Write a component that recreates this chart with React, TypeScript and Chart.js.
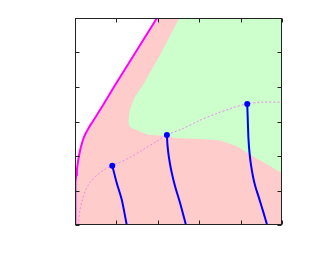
import { useEffect, useRef } from "react";
import { Chart, registerables } from "chart.js";

Chart.register(...registerables);

// axis ticks (no labels in the reference)
const xTicks = [0, 1, 2, 3, 4, 5];
const yTicks = [0, 1, 2, 3, 4, 5, 6];

// magenta limit curve
const limitX = [0, 0.001, 0.005, 0.012, 0.02, 0.032, 0.045, 0.062, 0.08, 0.104, 0.13, 0.163, 0.2, 0.247, 0.3, 0.364, 0.43, 0.69, 0.94, 1.46, 1.98];
const limitY = [0, 0.4, 0.75, 1.0, 1.25, 1.45, 1.6, 1.75, 1.9, 2.05, 2.2, 2.35, 2.5, 2.63, 2.75, 2.88, 3.0, 3.5, 4.0, 5.0, 6.0];

// green region outline (closed polygon)
const greenX = [1.29, 1.31, 1.37, 1.45, 1.65, 2.06, 2.5, 2.55, 5.0, 5.0, 4.72, 4.32, 3.91, 3.51, 3.03, 2.42, 2.22, 1.74, 1.57, 1.42, 1.34, 1.3];
const greenY = [3.0, 3.26, 3.49, 3.72, 4.07, 4.94, 5.96, 6.0, 6.0, 1.5, 1.7, 1.98, 2.28, 2.45, 2.49, 2.52, 2.58, 2.62, 2.71, 2.78, 2.84, 2.91];

// dashed curve through the dots
const dashX = [0.08, 0.12, 0.18, 0.26, 0.38, 0.54, 0.7, 0.9, 1.33, 1.65, 1.98, 2.22, 2.58, 2.99, 3.39, 3.79, 4.16, 4.52, 5.0];
const dashY = [0, 0.44, 0.73, 1.02, 1.26, 1.45, 1.6, 1.72, 1.96, 2.19, 2.43, 2.61, 2.78, 3.02, 3.22, 3.39, 3.51, 3.56, 3.56];

// blue dots
const dotX = [0.9, 2.22, 4.16];
const dotY = [1.72, 2.61, 3.51];

// blue curves from each dot down to the axis
const blue1X = [0.9, 1.01, 1.13, 1.25];
const blue1Y = [1.72, 1.21, 0.73, 0];
const blue2X = [2.22, 2.235, 2.27, 2.33, 2.42, 2.54, 2.68];
const blue2Y = [2.61, 2.3, 1.95, 1.55, 1.11, 0.63, 0];
const blue3X = [4.16, 4.175, 4.19, 4.215, 4.25, 4.3, 4.36, 4.44, 4.56, 4.64];
const blue3Y = [3.51, 3.0, 2.5, 2.1, 1.75, 1.4, 1.1, 0.8, 0.33, 0];

const X_MIN = 0, X_MAX = 5, Y_MIN = 0, Y_MAX = 6;

const zip = (xs: number[], ys: number[]) => xs.map((x, i) => ({ x, y: ys[i] }));

const framePlugin = {
  id: "frame",
  afterDatasetsDraw(chart: any) {
    const { ctx, chartArea: a, scales } = chart;
    const L = Math.round(a.left) + 0.5;
    const R = Math.round(a.right) - 0.5;
    const T = Math.round(a.top) + 0.5;
    const B = Math.round(a.bottom) - 0.5;
    const len = 4;
    ctx.save();
    ctx.strokeStyle = "#222";
    ctx.lineWidth = 1;
    ctx.beginPath();
    for (const v of xTicks) {
      const px = Math.round(scales.x.getPixelForValue(v)) + 0.5;
      ctx.moveTo(px, B); ctx.lineTo(px, B - len);
      ctx.moveTo(px, T); ctx.lineTo(px, T + len);
    }
    for (const v of yTicks) {
      const py = Math.round(scales.y.getPixelForValue(v)) + 0.5;
      ctx.moveTo(L, py); ctx.lineTo(L + len, py);
      ctx.moveTo(R, py); ctx.lineTo(R - len, py);
    }
    ctx.stroke();
    ctx.strokeRect(L, T, R - L, B - T);
    ctx.restore();
  },
};

export default function App() {
  const ref = useRef<HTMLCanvasElement | null>(null);

  useEffect(() => {
    if (!ref.current) return;
    const pinkData = [...zip(limitX, limitY), { x: X_MAX, y: Y_MAX }, { x: X_MAX, y: Y_MIN }];
    const blueLine = (xs: number[], ys: number[]) => ({
      data: zip(xs, ys),
      borderColor: "#0000ff",
      borderWidth: 2,
      pointRadius: 0,
      fill: false,
      tension: 0.25,
      order: 2,
    });
    const chart = new Chart(ref.current, {
      type: "line",
      data: {
        datasets: [
          {
            data: pinkData,
            borderWidth: 0,
            borderColor: "rgba(0,0,0,0)",
            backgroundColor: "#ffcccc",
            pointRadius: 0,
            fill: "origin",
            tension: 0,
            order: 10,
          },
          {
            data: zip(greenX, greenY),
            borderWidth: 0,
            borderColor: "rgba(0,0,0,0)",
            backgroundColor: "#ccffcc",
            pointRadius: 0,
            fill: "shape",
            tension: 0,
            order: 9,
          },
          {
            data: zip(dashX, dashY),
            borderColor: "#ee88ee",
            borderWidth: 1,
            borderDash: [2, 2],
            pointRadius: 0,
            fill: false,
            tension: 0.3,
            order: 5,
          },
          {
            data: zip(limitX, limitY),
            borderColor: "#ff00ff",
            borderWidth: 2,
            pointRadius: 0,
            fill: false,
            tension: 0,
            order: 3,
          },
          blueLine(blue1X, blue1Y),
          blueLine(blue2X, blue2Y),
          blueLine(blue3X, blue3Y),
          {
            data: zip(dotX, dotY),
            showLine: false,
            pointRadius: 3,
            pointBackgroundColor: "#0000ff",
            pointBorderColor: "#0000ff",
            pointBorderWidth: 0,
            fill: false,
            order: 1,
          },
        ],
      } as any,
      options: {
        animation: false,
        responsive: false,
        maintainAspectRatio: false,
        layout: { padding: { left: 75, top: 18, right: 27, bottom: 50 } },
        plugins: { legend: { display: false }, tooltip: { enabled: false } },
        scales: {
          x: { type: "linear", min: X_MIN, max: X_MAX, display: false },
          y: { type: "linear", min: Y_MIN, max: Y_MAX, display: false },
        },
      },
      plugins: [framePlugin],
    });
    return () => chart.destroy();
  }, []);

  return (
    <div style={{ position: "fixed", left: 0, top: 0, width: 309, height: 275, background: "#fff" }}>
      <canvas ref={ref} width={309} height={275} style={{ width: 309, height: 275 }} />
    </div>
  );
}
